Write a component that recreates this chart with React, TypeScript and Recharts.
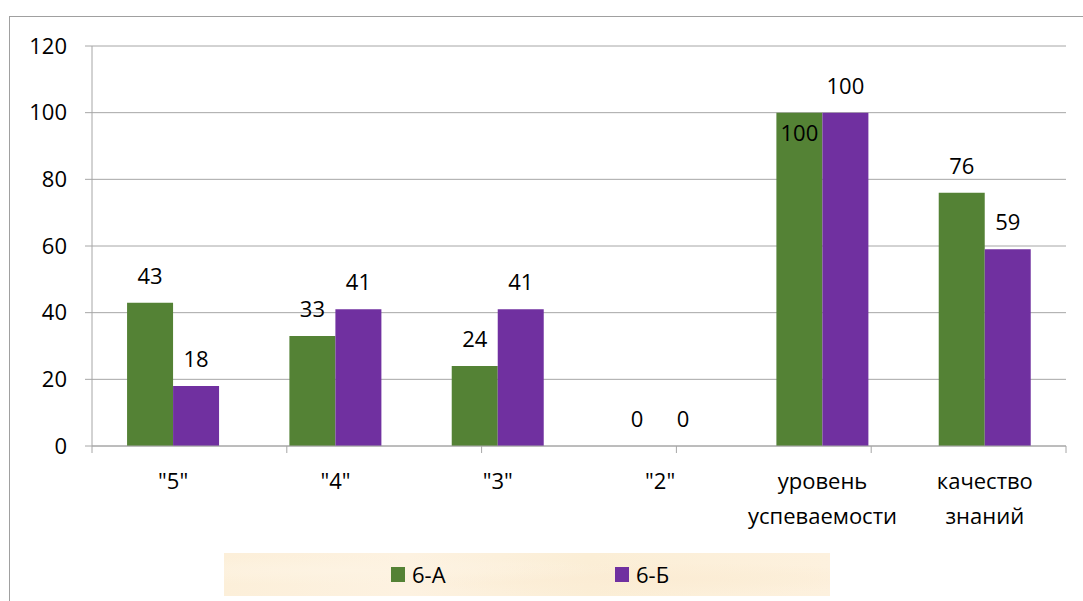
import React from 'react';
import { BarChart, Bar, XAxis, YAxis, CartesianGrid, LabelList } from 'recharts';

const categories = ['"5"', '"4"', '"3"', '"2"', 'уровень успеваемости', 'качество знаний'];
const seriesA = [43, 33, 24, 0, 100, 76];
const seriesB = [18, 41, 41, 0, 100, 59];
const seriesNames = ['6-А', '6-Б'];
const seriesColors = ['#548235', '#7030A0'];
const yTicks = [0, 20, 40, 60, 80, 100, 120];
const insideLabelIndexA = [4];

const boundaryTicks = categories.map((_, i) => i).concat(categories.length);
const data = categories.map((c, i) => ({ cat: c, a: seriesA[i], b: seriesB[i] }));

const FONT = '"Open Sans", "DejaVu Sans", sans-serif';
const FS = 22;
const GRID = '#a6a6a6';

const CatTick = (props: any) => {
  const { x, y, payload } = props;
  const lines = String(payload.value).split(' ');
  return (
    <text x={x} y={y} textAnchor="middle" fontFamily={FONT} fontSize={FS} fill="#000">
      {lines.map((l, i) => (
        <tspan key={i} x={x} dy={i === 0 ? 34 : 35}>{l}</tspan>
      ))}
    </text>
  );
};

const EmptyTick = () => <g />;

const makeLabel = (insideIdx: number[]) => (props: any) => {
  const { x, y, width, value, index } = props;
  const inside = insideIdx.includes(index);
  const cx = x + width / 2;
  const ty = inside ? y + 28 : y - 19;
  return (
    <text x={cx} y={ty} textAnchor="middle" fontFamily={FONT} fontSize={FS} fill="#000">
      {value}
    </text>
  );
};

export default function App() {
  return (
    <div style={{ position: 'absolute', left: 0, top: 0, width: 1083, height: 601, overflow: 'hidden', background: '#fff' }}>
      <div style={{ position: 'absolute', left: 9, top: 16, width: 1200, height: 800, border: '1px solid #a0a0a0', boxSizing: 'border-box' }} />
      <div style={{ position: 'absolute', left: 0, top: 0 }}>
        <BarChart
          width={1083}
          height={601}
          data={data}
          margin={{ top: 46, right: 17, bottom: 94, left: 0 }}
          barCategoryGap="21.6%"
          barGap={0}
        >
          <CartesianGrid vertical={false} stroke={GRID} strokeWidth={1} />
          <XAxis
            xAxisId="bound"
            type="number"
            domain={[0, categories.length]}
            ticks={boundaryTicks}
            allowDataOverflow
            tick={<EmptyTick />}
            interval={0}
            height={1}
            tickSize={7}
            axisLine={{ stroke: GRID }}
            tickLine={{ stroke: GRID }}
          />
          <XAxis
            xAxisId="cat"
            dataKey="cat"
            height={60}
            axisLine={false}
            tickLine={false}
            interval={0}
            tick={<CatTick />}
          />
          <YAxis
            domain={[0, 120]}
            ticks={yTicks}
            width={92}
            tickSize={7}
            tickMargin={18}
            axisLine={{ stroke: GRID }}
            tickLine={{ stroke: GRID }}
            tick={{ fontFamily: FONT, fontSize: FS, fill: '#000' }}
            interval={0}
          />
          <Bar xAxisId="cat" dataKey="a" name={seriesNames[0]} fill={seriesColors[0]} minPointSize={0.01} isAnimationActive={false}>
            <LabelList dataKey="a" content={makeLabel(insideLabelIndexA)} />
          </Bar>
          <Bar xAxisId="cat" dataKey="b" name={seriesNames[1]} fill={seriesColors[1]} minPointSize={0.01} isAnimationActive={false}>
            <LabelList dataKey="b" content={makeLabel([])} />
          </Bar>
        </BarChart>
      </div>
      <div
        style={{
          position: 'absolute',
          left: 224,
          top: 553,
          width: 606,
          height: 43,
          background:
            'radial-gradient(ellipse at 20% 40%, #fdf3e2 0%, rgba(253,243,226,0) 40%), radial-gradient(ellipse at 70% 60%, #fbecd4 0%, rgba(251,236,212,0) 45%), linear-gradient(90deg, #fcefd9, #fdf2e1 30%, #fbeed6 60%, #fdf1de)',
          fontFamily: FONT,
          fontSize: FS,
          color: '#000',
        }}
      >
        {seriesNames.map((n, i) => (
          <div key={n} style={{ position: 'absolute', left: i === 0 ? 167 : 391, top: 0, height: 43, display: 'flex', alignItems: 'center' }}>
            <span style={{ display: 'inline-block', width: 14, height: 15, background: seriesColors[i], marginRight: 7 }} />
            <span style={{ lineHeight: '43px' }}>{n}</span>
          </div>
        ))}
      </div>
    </div>
  );
}
